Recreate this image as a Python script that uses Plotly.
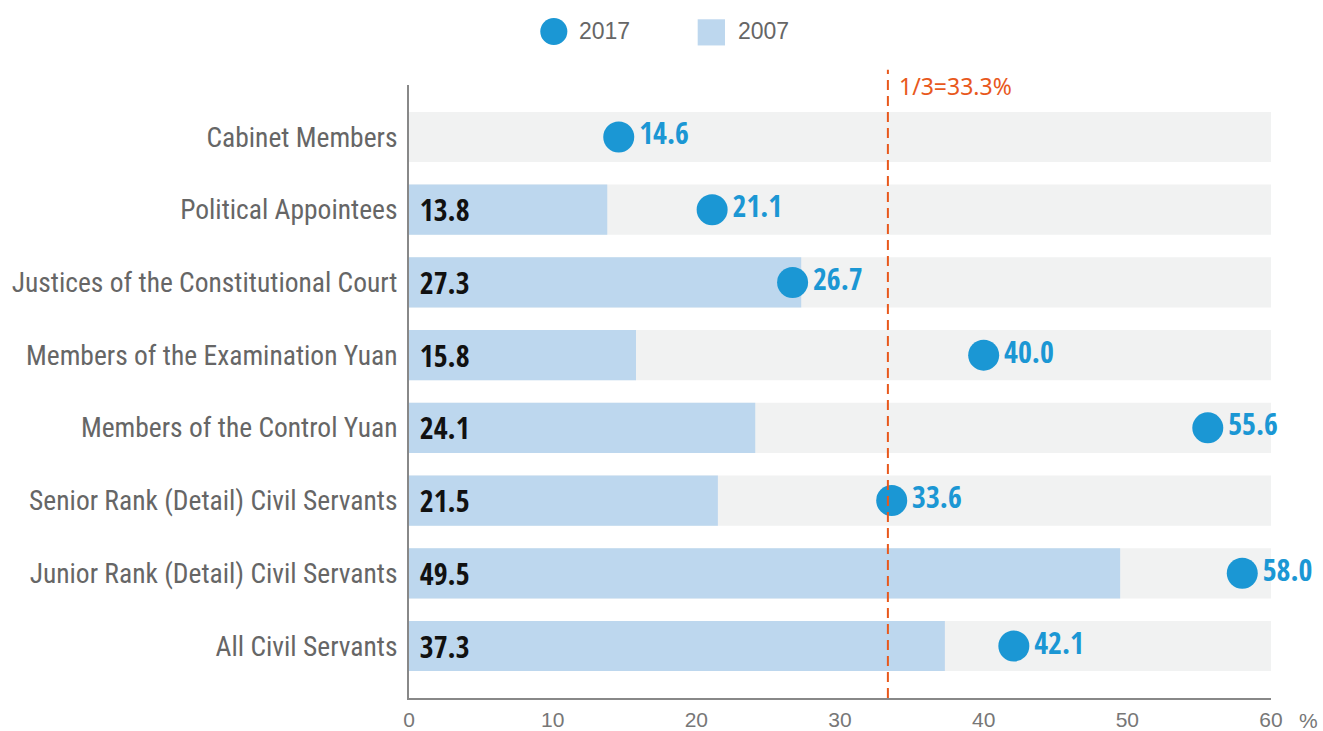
import plotly.graph_objects as go

categories = [
    "Cabinet Members",
    "Political Appointees",
    "Justices of the Constitutional Court",
    "Members of the Examination Yuan",
    "Members of the Control Yuan",
    "Senior Rank (Detail) Civil Servants",
    "Junior Rank (Detail) Civil Servants",
    "All Civil Servants",
]
values_2017 = [14.6, 21.1, 26.7, 40.0, 55.6, 33.6, 58.0, 42.1]
values_2007 = [None, 13.8, 27.3, 15.8, 24.1, 21.5, 49.5, 37.3]
axis_max = 60
reference_line = 100 / 3
tick_vals = [0, 10, 20, 30, 40, 50, 60]
series_names = ["2017", "2007"]

NUM_FONT = "Open Sans Condensed, Roboto Condensed, sans-serif"
LABEL_FONT = "Roboto Condensed, sans-serif"
PLAIN_FONT = "Liberation Sans, Arial, sans-serif"
BLUE = "#1b97d4"
LIGHT = "#bdd7ee"
ORANGE = "#e8581c"
NBSP = "\u00a0"

fig = go.Figure()

fig.add_trace(go.Bar(
    y=categories, x=[axis_max] * len(categories), orientation="h",
    marker=dict(color="#f1f2f2", line=dict(width=0)),
    width=0.69, showlegend=False, hoverinfo="skip",
))

fig.add_trace(go.Bar(
    y=categories, x=[v if v is not None else 0 for v in values_2007],
    orientation="h", name=series_names[1], showlegend=False,
    marker=dict(color=LIGHT, line=dict(width=0)),
    width=0.69,
    text=[NBSP + f"{v:.1f}" if v is not None else "" for v in values_2007],
    textposition="inside", insidetextanchor="start", constraintext="none",
    textfont=dict(family=NUM_FONT, size=30, color="#111111", weight="bold"),
))

fig.add_trace(go.Scatter(
    y=categories, x=values_2017, mode="markers+text", name=series_names[0], showlegend=False,
    marker=dict(color=BLUE, size=31, line=dict(width=0)),
    text=[f"{v:.1f}" for v in values_2017], textposition="middle right",
    textfont=dict(family=NUM_FONT, size=30, color=BLUE, weight="bold"),
    cliponaxis=False,
))

# reference line
fig.add_shape(type="line", xref="x", yref="paper",
              x0=reference_line, x1=reference_line, y0=0, y1=1.025,
              line=dict(color=ORANGE, width=2, dash="10px,6px"))
fig.add_annotation(xref="x", yref="paper", x=reference_line, y=0.998,
                   text="1/3=33.3%", showarrow=False, xanchor="left", yanchor="middle",
                   xshift=9, font=dict(family="Noto Sans, Open Sans, sans-serif", size=23, color=ORANGE))
fig.add_annotation(xref="paper", yref="paper", x=1.0, y=0, yshift=-22, xshift=26,
                   text="%", showarrow=False, xanchor="left", yanchor="middle",
                   font=dict(family=PLAIN_FONT, size=21, color="#777777"))

# legend (drawn manually to match symbol size)
fig.add_shape(type="circle", xref="paper", yref="paper",
              x0=0.1523, x1=0.1837, y0=1.0653, y1=1.1093,
              fillcolor=BLUE, line=dict(width=0))
fig.add_shape(type="rect", xref="paper", yref="paper",
              x0=0.3349, x1=0.3666, y0=1.0645, y1=1.1072,
              fillcolor=LIGHT, line=dict(width=0))
fig.add_annotation(xref="paper", yref="paper", x=0.1949, y=1.0875, text=series_names[0],
                   showarrow=False, xanchor="left", yanchor="middle",
                   font=dict(family=PLAIN_FONT, size=23, color="#666666"))
fig.add_annotation(xref="paper", yref="paper", x=0.3793, y=1.0875, text=series_names[1],
                   showarrow=False, xanchor="left", yanchor="middle",
                   font=dict(family=PLAIN_FONT, size=23, color="#666666"))

fig.update_layout(
    width=1323, height=731,
    margin=dict(l=409, r=52, t=85, b=33, autoexpand=False),
    plot_bgcolor="white", paper_bgcolor="white",
    barmode="overlay", showlegend=False,
    xaxis=dict(range=[0, axis_max], tickvals=tick_vals, showgrid=False, zeroline=False,
               showline=True, linecolor="#888888", linewidth=2, ticks="", automargin=False,
               ticklabelstandoff=2,
               tickfont=dict(family=PLAIN_FONT, size=21, color="#777777")),
    yaxis=dict(categoryorder="array", categoryarray=categories, autorange=False,
               range=[len(categories) - 1 + 0.715, -0.715], automargin=False,
               showgrid=False, zeroline=False, showline=True, linecolor="#888888", linewidth=2,
               ticks="", ticklabelstandoff=4,
               tickfont=dict(family=LABEL_FONT, size=27.5, color="#666666")),
)

fig.write_html("out.html", config={"displayModeBar": False},
               post_script="document.body.style.margin='0';document.body.style.overflow='hidden';")
